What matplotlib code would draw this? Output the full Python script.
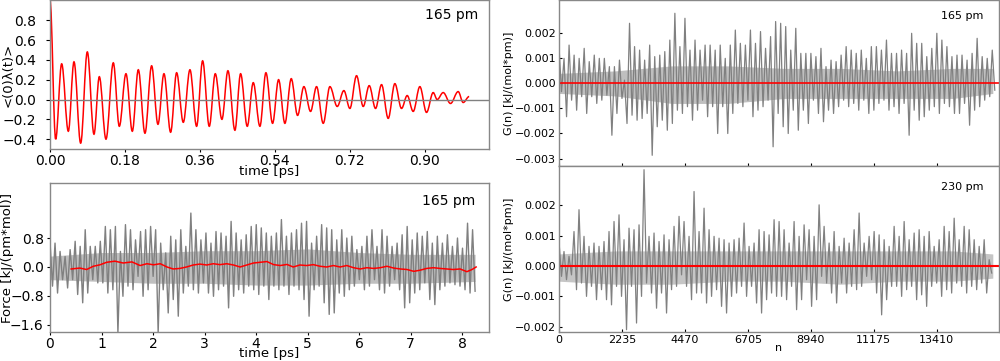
import numpy as np
import matplotlib.pyplot as plt
from matplotlib.path import Path
from matplotlib.patches import PathPatch

# velocity autocorrelation: extrema (time in ps)
acf_t = [0.0, 0.0136, 0.028, 0.044, 0.0576, 0.0736, 0.0896, 0.1056, 0.1184, 0.1344,
         0.152, 0.1664, 0.1824, 0.1976, 0.212, 0.228, 0.244, 0.2592, 0.2736, 0.2896,
         0.304, 0.32, 0.336, 0.352, 0.3664, 0.3824, 0.3968, 0.4128, 0.4272, 0.444,
         0.4576, 0.4736, 0.488, 0.504, 0.5184, 0.5344, 0.5488, 0.564, 0.5792, 0.5944,
         0.6096, 0.6256, 0.64, 0.656, 0.672, 0.6896, 0.7056, 0.72, 0.736, 0.752,
         0.7664, 0.7816, 0.796, 0.812, 0.828, 0.844, 0.8576, 0.872, 0.888, 0.904,
         0.92, 0.9296, 0.944, 0.9616, 0.98, 0.992, 1.0064]
acf_y = [1.0, -0.40, 0.36, -0.32, 0.38, -0.44, 0.48, -0.35, 0.23, -0.40,
         0.37, -0.27, 0.26, -0.32, 0.30, -0.34, 0.34, -0.25, 0.26, -0.33,
         0.27, -0.23, 0.30, -0.27, 0.39, -0.27, 0.26, -0.20, 0.29, -0.31,
         0.26, -0.27, 0.17, -0.27, 0.27, -0.24, 0.20, -0.24, 0.21, -0.16,
         0.13, -0.12, 0.13, -0.24, 0.13, -0.07, 0.09, -0.09, 0.24, -0.07,
         0.14, -0.09, 0.15, -0.19, 0.16, -0.09, 0.04, -0.12, 0.13, -0.13,
         0.07, 0.0, 0.07, -0.04, 0.08, -0.03, 0.03]

# force trace: per-bin upper / lower envelope, kJ/(pm*mol)
force_hi = [0.71, 0.66, 0.43, 0.29, 0.48, 0.71, 0.57, 1.03, 0.57, 0.57, 0.71, 1.12, 1.03, 1.12, 0.43,
            1.17, 1.03, 0.75, 0.98, 1.03, 1.12, 1.03, 0.66, 0.39, 0.85, 0.75, 1.03, 0.57, 1.49, 1.03,
            0.75, 0.94, 0.66, 0.98, 0.94, 0.85, 1.26, 0.94, 0.75, 0.89, 1.12, 1.17, 1.08, 0.94,
            0.85, 0.94, 1.31, 0.85, 0.94, 1.03, 1.21, 1.26, 0.66, 0.85, 1.17, 1.08, 1.03, 0.75, 1.03,
            0.80, 0.85, 0.48, 0.57, 0.85, 1.03, 0.57, 1.03, 0.85, 0.57, 0.66, 0.89, 1.12, 0.75, 0.94,
            0.85, 0.98, 0.66, 0.85, 0.66, 0.89, 0.57, 0.80, 0.52, 1.21, 1.03]
force_lo = [-0.53, -0.72, -0.35, -0.58, -0.35, -0.76, -0.99, -0.72, -0.35, -0.44, -0.44, -0.72, -0.63,
            -1.82, -0.81, -0.53, -0.63, -0.26, -0.81, -0.63, -0.26, -1.82, -0.63, -1.27, -0.90, -1.36,
            -0.72, -0.53, -0.63, -0.72, -0.44, -0.72, -0.81, -0.63, -0.53, -1.13, -0.81, -0.63, -0.72,
            -0.53, -0.63, -0.76, -0.53, -0.90,
            -0.53, -0.63, -0.53, -0.76, -0.53, -0.63, -0.90, -1.36, -0.63, -0.53, -0.99, -1.31, -1.27,
            -0.72, -0.81, -0.63, -0.53, -0.35, -0.63, -0.53, -0.35, -0.63, -0.72, -0.53, -0.35, -0.63,
            -1.13, -0.99, -0.72, -0.63, -0.44, -0.90, -1.04, -0.63, -0.53, -0.44, -0.49, -0.53, -0.63,
            -0.72, -0.67]
force_t_end = 8.25

# dense core of the force trace
core_t = [0, 1, 2, 3, 4, 5, 6, 7, 8.25]
core_f_hi = [0.30, 0.40, 0.40, 0.45, 0.45, 0.50, 0.40, 0.35, 0.35]
core_f_lo = [-0.35, -0.40, -0.45, -0.45, -0.50, -0.50, -0.45, -0.45, -0.40]

# running average of the force
avg_t = [0.41, 0.58, 0.71, 0.84, 0.97, 1.10, 1.26, 1.42, 1.59, 1.75, 1.88, 2.01, 2.14, 2.27, 2.39,
         2.52, 2.65, 2.78, 2.91, 3.04, 3.17, 3.30, 3.43, 3.56, 3.69, 3.82, 3.95, 4.08, 4.21, 4.34,
         4.47, 4.60, 4.72, 4.85, 4.98, 5.11, 5.24, 5.37, 5.50, 5.63, 5.76, 5.89, 6.02, 6.15, 6.28,
         6.41, 6.54, 6.67, 6.80, 6.93, 7.06, 7.18, 7.31, 7.44, 7.57, 7.70, 7.83, 7.96, 8.09, 8.19, 8.27]
avg_f = [-0.055, -0.03, -0.07, 0.02, 0.06, 0.13, 0.16, 0.11, 0.14, 0.04, 0.09, 0.06, 0.09, 0.0, -0.055,
         -0.04, 0.0, 0.055, 0.08, 0.055, 0.09, 0.065, 0.09, 0.055, 0.0, 0.055, 0.11, 0.13, 0.15, 0.065,
         0.04, 0.07, 0.0, 0.055, 0.04, 0.065, 0.02, 0.0, 0.04, 0.0, 0.04, -0.02, -0.055, -0.02, -0.04,
         -0.02, 0.02, -0.03, -0.055, -0.07, -0.12, -0.09, -0.04, -0.02, -0.04, -0.055, -0.07, -0.055,
         -0.13, -0.07, 0.0]

# G(n) traces, per-bin upper / lower envelope in 1e-3 kJ/(mol*pm)
g165_hi = [1.47, 1.0, 1.53, 1.13, 1.0, 1.4, 0.87, 1.13, 1.0, 1.0, 0.67, 0.67, 0.93, 0.13, 2.4,
           1.47, 1.33, 0.93, 1.53, 1.07, 1.13, 1.27, 1.73, 2.8, 1.47, 2.6, 1.33, 1.73, 1.33, 1.53,
           1.53, 1.33, 1.53, 1.0, 1.53, 2.13, 1.6, 1.53, 2.13, 1.6, 2.07, 1.4, 1.87, 2.47,
           2.4, 2.27, 1.33, 2.2, 1.2, 1.2, 1.2, 1.07, 1.4, 0.67, 0.93, 0.87, 1.13, 1.47, 1.33,
           1.2, 1.33, 1.0, 1.47, 1.47, 1.33, 1.73, 1.2, 1.2, 1.33, 1.2, 2.0, 1.6, 1.6, 1.07,
           1.4, 2.0, 1.73, 1.47, 1.07, 1.13, 1.13, 0.93, 1.2, 1.8, 1.07, 1.0, 1.33]
g165_lo = [-0.33, -1.33, -0.67, -1.07, -0.53, -1.2, -0.53, -0.8, -0.67, -0.47, -2.07, -1.2, -0.6, -1.6,
           -1.27, -1.47, -1.4, -1.2, -2.87, -1.73, -1.47, -1.87, -1.6, -1.07, -1.2, -0.93, -1.47, -1.07,
           -0.67, -1.33, -0.93, -2.0, -0.93, -2.0, -1.2, -0.8, -0.93, -0.67, -1.33, -1.07, -0.93, -0.67,
           -2.53, -1.2,
           -1.73, -2.0, -1.07, -1.87, -1.07, -1.6, -0.67, -1.2, -1.53, -1.07, -1.2, -0.93, -0.67, -0.93,
           -0.8, -1.07, -0.67, -1.2, -1.07, -0.8, -0.67, -1.07, -0.93, -1.2, -0.8, -2.07, -1.07, -1.47,
           -1.33, -1.07, -0.93, -1.2, -0.8, -0.93, -1.2, -1.2, -0.8, -1.67, -1.07, -0.93, -0.67, -0.53,
           -0.27]
g165_n_end = 15470

g230_hi = [0.81, 0.48, 0.32, 1.14, 1.86, 0.98, 0.65, 0.76, 0.65, 0.81, 1.14, 1.47, 1.69, 0.87, 1.25,
           1.20, 1.36, 3.18, 0.98, 1.09, 0.81, 1.03, 0.87, 1.31, 1.64, 1.47, 0.98, 2.46, 1.14, 1.91,
           1.20, 0.98, 0.92, 0.87, 0.76, 0.87, 0.92, 1.42, 0.65, 0.76, 1.20, 1.14, 1.03, 1.53,
           1.47, 1.20, 0.76, 1.47, 0.98, 1.36, 1.20, 0.98, 2.02, 1.31, 0.76, 1.14, 0.65, 0.92, 0.76,
           1.20, 1.75, 0.76, 0.98, 1.14, 1.03, 0.87, 0.65, 1.31, 0.98, 1.47, 0.87, 1.09, 1.20, 0.98,
           1.14, 0.65, 0.87, 1.31, 1.14, 1.58, 0.87, 1.31, 1.20, 0.87, 0.65, 0.87, 0.21]
g230_lo = [-0.34, -0.45, -0.29, -0.78, -0.56, -1.0, -0.67, -1.11, -0.78, -1.11, -1.28, -0.67, -1.0,
           -2.1, -0.67, -1.88, -1.0, -0.56, -0.89, -1.39, -0.89, -1.55, -0.78, -0.67, -0.29, -0.67,
           -1.11, -0.89, -0.89, -1.22, -1.0, -0.78, -1.33, -1.55, -1.0, -0.89, -0.67, -1.0, -0.67,
           -1.22, -1.55, -1.11, -0.89, -1.0,
           -1.0, -1.11, -0.67, -1.44, -1.11, -0.45, -1.33, -1.11, -0.34, -0.56, -0.89, -1.22, -0.56,
           -0.89, -0.67, -0.78, -0.67, -0.34, -0.45, -0.89, -1.61, -1.11, -0.67, -0.67, -1.0, -0.78,
           -0.67, -1.11, -0.95, -1.33, -0.67, -0.56, -1.0, -0.78, -0.89, -0.56, -0.67, -0.89, -0.67,
           -0.78, -0.56, -0.89, -0.23]
g230_n_end = 15360

# dense cores of the G(n) traces (1e-3)
core_n = [0, 2000, 4000, 6000, 8000, 10000, 12000, 14000, 15400]
core_g165_hi = [0.4, 0.5, 0.7, 0.7, 0.6, 0.6, 0.5, 0.6, 0.6]
core_g165_lo = [-0.4, -0.5, -0.8, -0.8, -0.6, -0.6, -0.6, -0.6, -0.4]
core_g230_hi = [0.4, 0.5, 0.5, 0.5, 0.5, 0.5, 0.5, 0.5, 0.4]
core_g230_lo = [-0.5, -0.6, -0.6, -0.5, -0.5, -0.6, -0.5, -0.5, -0.4]

n_ticks = [0, 2235, 4470, 6705, 8940, 11175, 13410]


def zigzag(hi, lo):
    v = np.empty(2 * len(hi))
    v[0::2] = hi
    v[1::2] = lo
    return v


def smooth_path(t, y, k=0.36):
    verts = [(t[0], y[0])]
    codes = [Path.MOVETO]
    for i in range(len(t) - 1):
        dt = t[i + 1] - t[i]
        verts += [(t[i] + k * dt, y[i]), (t[i + 1] - k * dt, y[i + 1]), (t[i + 1], y[i + 1])]
        codes += [Path.CURVE4] * 3
    return Path(verts, codes)


def style(ax):
    for s in ax.spines.values():
        s.set_color('#888888')
        s.set_linewidth(1.0)


fig = plt.figure(figsize=(10, 3.61), dpi=100)

# top left: autocorrelation
ax1 = fig.add_axes([0.05, 0.587, 0.439, 0.412])
ax1.add_patch(PathPatch(smooth_path(acf_t, acf_y), fill=False, edgecolor='red', lw=1.1))
ax1.axhline(0, color='gray', lw=1.0)
ax1.set_xlim(0, 1.054)
ax1.set_ylim(-0.5, 1.0)
ax1.set_xticks([0.0, 0.18, 0.36, 0.54, 0.72, 0.90])
ax1.set_yticks([-0.4, -0.2, 0.0, 0.2, 0.4, 0.6, 0.8])
ax1.tick_params(labelsize=10)
ax1.tick_params(axis='x', length=2, pad=1.5)
ax1.tick_params(axis='y', length=3, pad=7)
ax1.set_xlabel('time [ps]', fontsize=9.5)
ax1.xaxis.set_label_coords(0.5, -0.11)
ax1.set_ylabel('<(0)λ(t)>', fontsize=9.5)
ax1.yaxis.set_label_coords(-0.08, 0.5)
ax1.text(0.975, 0.9, '165 pm', transform=ax1.transAxes, ha='right', va='center', fontsize=10)
style(ax1)

# bottom left: force
ax2 = fig.add_axes([0.05, 0.08, 0.439, 0.413])
ft = np.linspace(0, force_t_end, 2 * len(force_hi))
ax2.fill_between(core_t, core_f_lo, core_f_hi, color='gray', alpha=0.5, lw=0)
ax2.plot(ft, zigzag(force_hi, force_lo), color='gray', lw=1.0)
ax2.plot(avg_t, avg_f, color='red', lw=1.1)
ax2.set_xlim(0, 8.52)
ax2.set_ylim(-1.8, 2.32)
ax2.set_yticks([-1.6, -0.8, 0.0, 0.8])
ax2.set_xticks(range(9))
ax2.tick_params(labelsize=10)
ax2.tick_params(axis='x', length=2, pad=1.5)
ax2.tick_params(axis='y', length=2, pad=2.5)
ax2.set_xlabel('time [ps]', fontsize=9.5)
ax2.xaxis.set_label_coords(0.5, -0.1)
ax2.set_ylabel('Force [kJ/(pm*mol)]', fontsize=9.5)
ax2.yaxis.set_label_coords(-0.081, 0.5)
ax2.text(0.968, 0.88, '165 pm', transform=ax2.transAxes, ha='right', va='center', fontsize=10)
style(ax2)

# right: G(n)
ax3 = fig.add_axes([0.559, 0.540, 0.44, 0.46])
ax4 = fig.add_axes([0.559, 0.08, 0.44, 0.46], sharex=ax3)

n165 = np.linspace(0, g165_n_end, 2 * len(g165_hi))
ax3.fill_between(core_n, np.array(core_g165_lo) * 1e-3, np.array(core_g165_hi) * 1e-3,
                 color='gray', alpha=0.5, lw=0)
ax3.plot(n165, zigzag(g165_hi, g165_lo) * 1e-3, color='gray', lw=0.9)
ax3.axhline(0, color='red', lw=1.2)
ax3.set_ylim(-0.0033, 0.00333)
ax3.set_yticks([-0.003, -0.002, -0.001, 0.0, 0.001, 0.002])
ax3.tick_params(labelsize=8, direction='in', length=2.5, pad=2)
ax3.tick_params(axis='x', labelbottom=False)
ax3.set_ylabel('G(n) [kJ/(mol*pm)]', fontsize=8)
ax3.yaxis.set_label_coords(-0.102, 0.5)
ax3.text(0.964, 0.904, '165 pm', transform=ax3.transAxes, ha='right', va='center', fontsize=8)
style(ax3)

n230 = np.linspace(0, g230_n_end, 2 * len(g230_hi))
ax4.fill_between(core_n, np.array(core_g230_lo) * 1e-3, np.array(core_g230_hi) * 1e-3,
                 color='gray', alpha=0.45, lw=0)
ax4.plot(n230, zigzag(g230_hi, g230_lo) * 1e-3, color='gray', lw=0.9)
ax4.axhline(0, color='red', lw=1.5)
ax4.set_xlim(0, 15620)
ax4.set_xticks(n_ticks)
ax4.set_ylim(-0.00218, 0.0033)
ax4.set_yticks([-0.002, -0.001, 0.0, 0.001, 0.002])
ax4.tick_params(labelsize=8, direction='in', length=2.5, pad=2)
ax4.set_xlabel('n', fontsize=8)
ax4.xaxis.set_label_coords(0.5, -0.066)
ax4.set_ylabel('G(n) [kJ/(mol*pm)]', fontsize=8)
ax4.yaxis.set_label_coords(-0.102, 0.5)
ax4.text(0.964, 0.875, '230 pm', transform=ax4.transAxes, ha='right', va='center', fontsize=8)
style(ax4)

fig.savefig('out.png', dpi=100)
